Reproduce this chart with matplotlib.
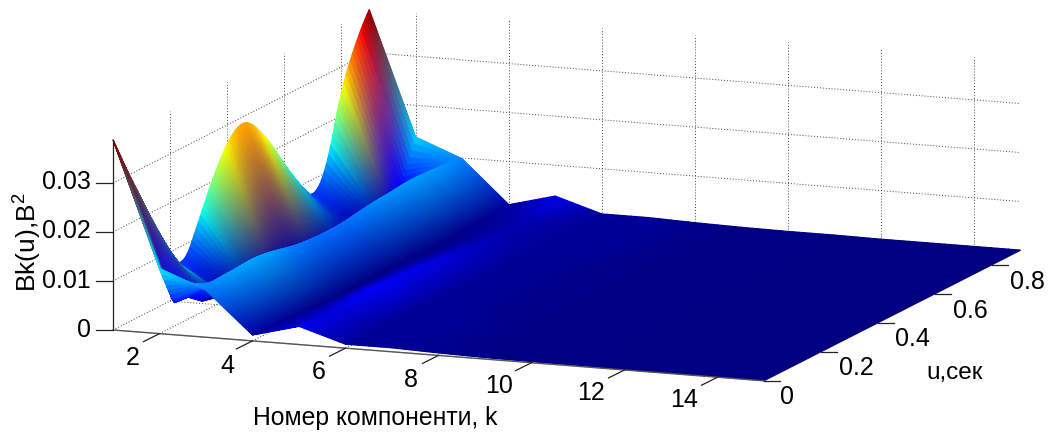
import numpy as np
import matplotlib
matplotlib.use('Agg')
import matplotlib.pyplot as plt
from matplotlib.lines import Line2D
from mpl_toolkits.mplot3d import proj3d

plt.rcParams['font.family'] = ['Liberation Sans', 'DejaVu Sans']
plt.rcParams['mathtext.default'] = 'regular'

# component numbers and lags
k_values = np.arange(1, 16)
u_values = [0, .05, .1, .15, .2, .25, .3, .35, .4, .425, .45, .475, .5, .55,
            .6, .65, .7, .75, .8, .85, .875, .9]

# Bk(u), one row per component
bk1 = [.0388, .0310, .0238, .0163, .0085, .0058, .0132, .0205, .0263, .0280, .0290,
       .0286, .0268, .0222, .0162, .0108, .0058, .0105, .0250, .0330, .0362, .0388]
bk2 = [.0133, .0048, .0045, .0022, .0015, .0012, .0012, .0012, .0012, .0012, .0012,
       .0012, .0012, .0012, .0012, .0012, .0012, .0014, .0020, .0058, .0095, .0135]
bk3 = [.0096, .0108, .0108, .0112, .0110, .0104, .0096, .0092, .0090, .0090, .0090,
       .0091, .0093, .0098, .0102, .0104, .0108, .0108, .0106, .0103, .0100, .0098]
bk4 = [.0012, .0010, .0008, .0006, .0004, .0003, .0003, .0003, .0003, .0003, .0003,
       .0003, .0003, .0003, .0003, .0003, .0004, .0005, .0006, .0008, .0010, .0012]
bk5 = [.0037, .0032, .0032, .0034, .0038, .0040, .0039, .0037, .0035, .0034, .0033,
       .0031, .0029, .0026, .0022, .0019, .0017, .0016, .0018, .0028, .0033, .0037]
bk6 = [.0008, .0008, .0009, .0009, .0009, .0009, .0009, .0009, .0009, .0009, .0009,
       .0009, .0009, .0009, .0009, .0009, .0009, .0009, .0009, .0009, .0009, .0008]
bk7 = [.0008, .0008, .0008, .0008, .0008, .0008, .0007, .0007, .0007, .0007, .0007,
       .0007, .0007, .0007, .0007, .0008, .0008, .0008, .0008, .0008, .0008, .0008]
bk8 = [.0005, .0005, .0005, .0005, .0005, .0004, .0004, .0004, .0004, .0004, .0004,
       .0004, .0004, .0004, .0004, .0004, .0005, .0005, .0005, .0005, .0005, .0005]
bk9 = [.0003] * 22
bk10 = [.0002] * 22
bk11 = [.0002] * 22
bk12 = [.0001] * 22
bk13 = [.0001] * 22
bk14 = [.0001] * 22
bk15 = [.0001] * 22
bk_rows = [bk1, bk2, bk3, bk4, bk5, bk6, bk7, bk8, bk9, bk10, bk11, bk12, bk13, bk14, bk15]

k_ticks = [2, 4, 6, 8, 10, 12, 14]
u_ticks = [0, .2, .4, .6, .8]
z_ticks = [0, .01, .02, .03]
k_lim = (1, 15)
u_lim = (0, .9)
z_lim = (0, .0388)

W, H = 1051, 432


def to_pixels(ax, x, y, z):
    x2, y2, _ = proj3d.proj_transform(x, y, z, ax.get_proj())
    return ax.transData.transform((x2, y2))


def fig_xy(px, py):
    return px / W, 1 - py / H


def tick_mark(ax, x, y, z, dx, dy):
    #dx, dy in pixels, dy measured upwards
    px, py = to_pixels(ax, x, y, z)
    fig.add_artist(Line2D([px / W, (px + dx) / W], [py / H, (py + dy) / H],
                          color='#222222', lw=0.9))


def soften(row, half=3):
    #rounds the corners between read values, the two ends stay where they are
    out = np.array(row, dtype=float)
    for j in range(len(row)):
        h = min(half, j, len(row) - 1 - j)
        out[j] = np.mean(row[j - h:j + h + 1])
    return out


fig = plt.figure(figsize=(W / 100, H / 100), dpi=100)
side = 900
ax = fig.add_axes([0, 0, side / W, side / H], projection='3d')
ax.set_proj_type('ortho')
ax.view_init(elev=11.5, azim=-68.6)
ax.set_xlim(*k_lim)
ax.set_ylim(*u_lim)
ax.set_zlim(*z_lim)
ax.set_box_aspect((699, 702, 194))
ax.set_axis_off()
ax.computed_zorder = False
ax.patch.set_alpha(0)

# fit the axes box so the front corners land where they are in the picture
p0 = to_pixels(ax, 1, 0, 0)
p1 = to_pixels(ax, 15, 0, 0)
side = side * 651.0 / (p1[0] - p0[0])
ax.set_position([0, 0, side / W, side / H])
p0 = to_pixels(ax, 1, 0, 0)
ax.set_position([(113 - p0[0]) / W, ((H - 330) - p0[1]) / H, side / W, side / H])

# grid
grid_kw = dict(color='#444444', lw=0.7, ls=(0, (1, 2)), zorder=1)
for k in k_ticks:
    ax.plot([k, k], [u_lim[1], u_lim[1]], z_lim, **grid_kw)
    ax.plot([k, k], u_lim, [0, 0], **grid_kw)
for u in u_ticks:
    ax.plot([1, 1], [u, u], z_lim, **grid_kw)
    ax.plot(k_lim, [u, u], [0, 0], **grid_kw)
for z in z_ticks:
    ax.plot([1, 1], u_lim, [z, z], **grid_kw)
    ax.plot(k_lim, [u_lim[1], u_lim[1]], [z, z], **grid_kw)

# axis lines and ticks
ax.plot([1, 1], [0, 0], z_lim, color='#222222', lw=0.9, zorder=3)
ax.plot(k_lim, [0, 0], [0, 0], color='#555555', lw=1.0, zorder=3)
ax.plot([15, 15], u_lim, [0, 0], color='#555555', lw=0.8, zorder=1)
for k in k_ticks:
    tick_mark(ax, k, 0, 0, -16, -8)
for u in u_ticks:
    tick_mark(ax, 15, u, 0, 16, 0)
for z in z_ticks:
    tick_mark(ax, 1, 0, z, -17, 0)

# surface: height sets the colour along u, colours then blend in RGB between components
u_fine = np.linspace(0, .9, 121)
# cells are small where the surface is steep, otherwise the blend shows as stripes
k_fine = np.concatenate([np.linspace(1, 4, 241), np.linspace(4, 15, 89)[1:]])
rows = np.array([np.interp(u_fine, u_values, row) for row in bk_rows])
# component 2 keeps its sharp notches
rows[0] = soften(rows[0])
rows[2:] = np.array([soften(row) for row in rows[2:]])
row_colors = plt.get_cmap('jet')(np.clip(rows / z_lim[1], 0, 1))[:, :, :3]

# the first fall of component 1 is one long blend from dark red to cyan
n_fall = np.searchsorted(u_fine, .225)
t = (u_fine[:n_fall] / u_fine[n_fall])[:, None]
row_colors[0, :n_fall] = (1 - t) * row_colors[0, 0] + t * np.array([0, .9, 1])

Z = np.array([np.interp(k_fine, k_values, rows[:, j]) for j in range(len(u_fine))]).T
C = np.zeros((len(k_fine), len(u_fine), 3))
for c in range(3):
    for j in range(len(u_fine)):
        C[:, j, c] = np.interp(k_fine, k_values, row_colors[:, j, c])
K, U = np.meshgrid(k_fine, u_fine, indexing='ij')
ax.plot_surface(K, U, Z, facecolors=C, rstride=1, cstride=1, shade=False,
                linewidth=0.8, antialiased=True, zorder=2)

# text
tick_size = 18
k_label_pos = [(133, 358), (227, 366), (319, 372), (411, 380), (499, 386), (591, 393), (684, 400)]
for k, (px, py) in zip(k_ticks, k_label_pos):
    fig.text(*fig_xy(px, py), str(k), ha='center', va='center', fontsize=tick_size)
u_label_pos = [(787, 397), (856, 368), (912, 339), (970, 311), (1027, 282)]
for u, (px, py) in zip(u_ticks, u_label_pos):
    fig.text(*fig_xy(px, py), '%g' % u, ha='center', va='center', fontsize=tick_size)
z_label_y = [330, 281, 231, 182]
for z, py in zip(z_ticks, z_label_y):
    fig.text(*fig_xy(91, py), '%g' % z, ha='right', va='center', fontsize=tick_size)

fig.text(*fig_xy(375, 418), 'Номер компоненти, k', ha='center', va='center', fontsize=17.8)
fig.text(*fig_xy(955, 373), 'u,сек', ha='center', va='center', fontsize=17.5)
fig.text(*fig_xy(28, 242), 'Bk(u),В$^2$', ha='center', va='center', rotation=90, fontsize=19)

fig.savefig('out.png', dpi=100)
